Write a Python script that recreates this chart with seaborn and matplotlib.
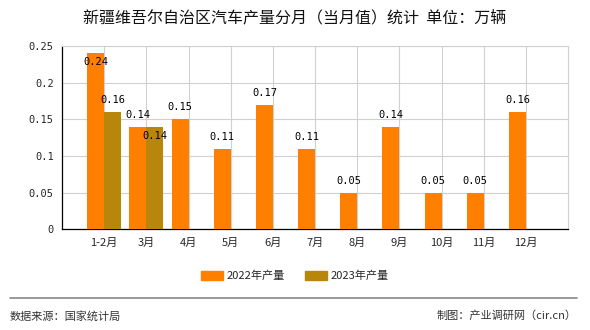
import matplotlib
matplotlib.use("Agg")
import matplotlib.pyplot as plt
import seaborn as sns
import pandas as pd
import numpy as np

months = ["1-2月", "3月", "4月", "5月", "6月", "7月", "8月", "9月", "10月", "11月", "12月"]
v2022 = [0.24, 0.14, 0.15, 0.11, 0.17, 0.11, 0.05, 0.14, 0.05, 0.05, 0.16]
v2023 = [0.16, 0.14, None, None, None, None, None, None, None, None, None]
series = ["2022年产量", "2023年产量"]
colors = ["#FF8000", "#B8860B"]
title = "新疆维吾尔自治区汽车产量分月（当月值）统计  单位：万辆"
source_left = "数据来源：国家统计局"
source_right = "制图：产业调研网（cir.cn）"

sns.set_theme(style="white")
plt.rcParams['font.family'] = ['Noto Sans CJK SC', 'DejaVu Sans']

rows = []
for m, a, b in zip(months, v2022, v2023):
    rows.append({"month": m, "year": series[0], "value": a})
    rows.append({"month": m, "year": series[1], "value": np.nan if b is None else b})
df = pd.DataFrame(rows)

fig = plt.figure(figsize=(5.9, 3.3), dpi=100)
ax = fig.add_axes([62/590, 1-229.3/330, (568-62)/590, (229.3-46)/330])

sns.barplot(data=df, x="month", y="value", hue="year", order=months,
            hue_order=series, palette=colors, dodge=True, width=0.8,
            saturation=1, ax=ax, legend=False, zorder=3, linewidth=0, edgecolor="none")

ax.set_xlim(-1, 11)
ax.set_ylim(0, 0.25)
ax.set_yticks([0, 0.05, 0.1, 0.15, 0.2, 0.25])
ax.set_yticklabels(["0", "0.05", "0.1", "0.15", "0.2", "0.25"], family="DejaVu Sans Mono", fontsize=7.5)
ax.set_xticks(range(len(months)))
ax.set_xticklabels(months, fontsize=8)
ax.set_xlabel("")
ax.set_ylabel("")
ax.grid(True, color="#d0d0d0", linewidth=0.8, zorder=0)
ax.set_axisbelow(True)
for s in ["top", "right"]:
    ax.spines[s].set_color("#d0d0d0")
    ax.spines[s].set_linewidth(0.8)
for s in ["left", "bottom"]:
    ax.spines[s].set_color("black")
    ax.spines[s].set_linewidth(0.9)
ax.tick_params(axis="both", which="major", length=3, width=0.8, color="black", pad=3)
ax.set_xticks([-1, 11], minor=True)
ax.tick_params(axis="x", which="minor", length=3, width=0.8, color="black")

# value labels
below = {(0, 0): True, (1, 1): True}
for j, vals in enumerate([v2022, v2023]):
    for i, v in enumerate(vals):
        if v is None:
            continue
        x = i - 0.2 if j == 0 else i + 0.2
        dy = -9 if below.get((j, i)) else 12
        ax.annotate(f"{v:.2f}", (x, v), xytext=(0, dy), textcoords="offset pixels",
                    ha="center", va="center", fontsize=7.5, family="DejaVu Sans Mono",
                    color="black", zorder=5)

fig.text(295/590, 1-18/330, title, ha="center", va="center", fontsize=11.5, color="#111111")

handles = [plt.Rectangle((0, 0), 1, 1, color=c) for c in colors]
fig.legend(handles, series, loc="center", bbox_to_anchor=(295/590, 1-276/330), ncol=2,
           frameon=False, fontsize=8, handlelength=2.0, handleheight=0.9,
           handletextpad=0.3, columnspacing=1.8)

fig.add_artist(plt.Line2D([10/590, 577/590], [1-298/330, 1-298/330], color="#888888", linewidth=1.2))
fig.text(10/590, 1-316/330, source_left, ha="left", va="center", fontsize=8, color="#333333")
fig.text(577/590, 1-316/330, source_right, ha="right", va="center", fontsize=8, color="#333333")

fig.savefig("out.png", dpi=100, facecolor="white")
